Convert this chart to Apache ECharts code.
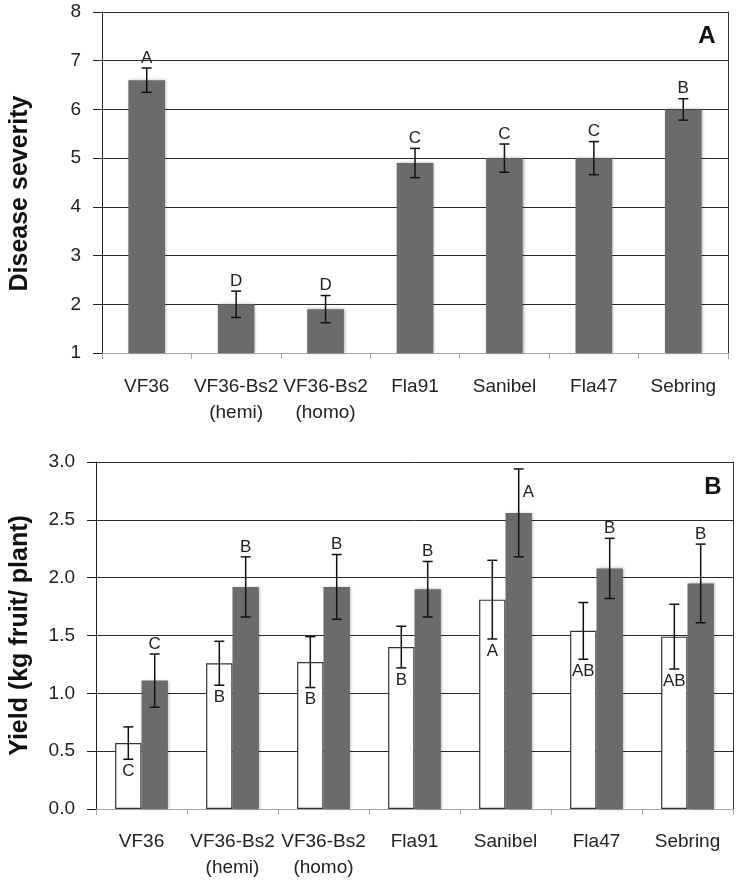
<!DOCTYPE html>
<html>
<head>
<meta charset="utf-8">
<script src="https://cdn.jsdelivr.net/npm/echarts@6/dist/echarts.min.js"></script>
<style>
  html, body { margin: 0; padding: 0; background: #fff; }
  #main { width: 738px; height: 881px; }
</style>
</head>
<body>
<div id="main"></div>
<script>
const categories = ["VF36", "VF36-Bs2\n(hemi)", "VF36-Bs2\n(homo)", "Fla91", "Sanibel", "Fla47", "Sebring"];

// panel A - disease severity
const severity = [6.6, 2.0, 1.9, 4.9, 5.0, 5.0, 6.0];
const severityErr = [0.25, 0.27, 0.28, 0.3, 0.29, 0.34, 0.22];
const severityGroups = ["A", "D", "D", "C", "C", "C", "B"];

// panel B - yield, white and gray bars
const yieldWhite = [0.57, 1.26, 1.27, 1.40, 1.81, 1.54, 1.49];
const yieldWhiteErr = [0.14, 0.19, 0.22, 0.18, 0.34, 0.245, 0.28];
const yieldWhiteGroups = ["C", "B", "B", "B", "A", "AB", "AB"];
const yieldGray = [1.11, 1.92, 1.92, 1.90, 2.56, 2.08, 1.95];
const yieldGrayErr = [0.23, 0.26, 0.28, 0.24, 0.38, 0.26, 0.34];
const yieldGrayGroups = ["C", "B", "B", "B", "A", "B", "B"];

const FONT = "'Liberation Sans', Arial, Helvetica, sans-serif";
const GRAY = "#6b6b6b";

// error bar + letter drawn with custom series
// shift: -1 left bar, 0 single bar, +1 right bar ; side: "top" or "bottom"
function errorRender(groups, shift, widthPct, side) {
  return function (params, api) {
    var i = api.value(0);
    var v = api.value(1);
    var e = api.value(2);
    var band = api.size([1, 0])[0];
    var cx = api.coord([i, v])[0] + shift * band * widthPct / 2;
    var yTop = api.coord([i, v + e])[1];
    var yBot = api.coord([i, v - e])[1];
    var cs = params.coordSys;
    var half = 5;
    var ls = { stroke: "#111", lineWidth: 1.5 };
    var tx = cx, ty, align = "center";
    if (side === "bottom") {
      ty = yBot + 12;
    } else if (yTop - 18 < cs.y) {
      // no room above the bar: put letter beside the error bar
      tx = cx + 4;
      ty = yTop + 23;
      align = "left";
    } else {
      ty = yTop - 10;
    }
    return {
      type: "group",
      children: [
        { type: "line", shape: { x1: cx, y1: yTop, x2: cx, y2: yBot }, style: ls },
        { type: "line", shape: { x1: cx - half, y1: yTop, x2: cx + half, y2: yTop }, style: ls },
        { type: "line", shape: { x1: cx - half, y1: yBot, x2: cx + half, y2: yBot }, style: ls },
        {
          type: "text", x: tx, y: ty,
          style: {
            text: groups[params.dataIndex], fill: "#222", fontSize: 17, fontFamily: FONT,
            align: align, verticalAlign: "middle"
          }
        }
      ]
    };
  };
}

function toErrData(vals, errs) {
  return vals.map(function (v, i) { return [i, v, errs[i]]; });
}

function xAxisFor(gridIndex, margin) {
  return {
    type: "category",
    gridIndex: gridIndex,
    data: categories,
    axisLine: { lineStyle: { color: "#a6a6a6", width: 1 } },
    axisTick: { show: true, length: 6, lineStyle: { color: "#a6a6a6" } },
    axisLabel: {
      interval: 0, margin: margin, fontSize: 19, lineHeight: 26,
      color: "#222", fontFamily: FONT
    },
    splitLine: { show: false }
  };
}

function yAxisFor(gridIndex, min, max, step, name, gap, pad, digits) {
  return {
    type: "value",
    gridIndex: gridIndex,
    min: min, max: max, interval: step,
    axisLine: { show: true, lineStyle: { color: "#222", width: 1 } },
    axisTick: { show: true, length: 9, lineStyle: { color: "#222" } },
    axisLabel: {
      margin: 21, fontSize: 19, color: "#222", fontFamily: FONT,
      formatter: function (val) { return val.toFixed(digits); }
    },
    splitLine: { show: true, showMinLine: false, lineStyle: { color: "#2a2a2a", width: 1 } },
    name: name,
    nameLocation: "middle",
    nameGap: gap,
    nameTextStyle: {
      fontSize: 25, fontWeight: "bold", color: "#111", fontFamily: FONT, padding: pad
    }
  };
}

function rightBorder(gridIndex, min, max) {
  return {
    type: "value", gridIndex: gridIndex, position: "right",
    min: min, max: max,
    axisLine: { show: true, lineStyle: { color: "#333", width: 1 } },
    axisTick: { show: false }, axisLabel: { show: false }, splitLine: { show: false }
  };
}

var myChart = echarts.init(document.getElementById("main"), null, { renderer: "canvas" });
myChart.setOption({
  animation: false,
  backgroundColor: "#fff",
  grid: [
    { left: 97, right: 10, top: 12, height: 341 },
    { left: 91, right: 5, top: 462, height: 347 }
  ],
  xAxis: [xAxisFor(0, 21), xAxisFor(1, 20)],
  yAxis: [
    yAxisFor(0, 1, 8, 1, "Disease severity", 69, [0, 22, 0, 0], 0),
    rightBorder(0, 1, 8),
    yAxisFor(1, 0, 3, 0.5, "Yield (kg fruit/ plant)", 63, 0, 1),
    rightBorder(1, 0, 3)
  ],
  graphic: [
    { type: "text", x: 707, y: 36, style: { text: "A", fill: "#111", font: "bold 24px " + FONT, align: "center", verticalAlign: "middle" } },
    { type: "text", x: 713, y: 487, style: { text: "B", fill: "#111", font: "bold 24px " + FONT, align: "center", verticalAlign: "middle" } }
  ],
  series: [
    {
      name: "Disease severity",
      type: "bar",
      xAxisIndex: 0, yAxisIndex: 0,
      data: severity,
      barWidth: "41%",
      itemStyle: { color: GRAY, shadowBlur: 3, shadowColor: "rgba(0,0,0,0.3)", shadowOffsetX: 1 }
    },
    {
      type: "custom",
      xAxisIndex: 0, yAxisIndex: 0,
      data: toErrData(severity, severityErr),
      encode: { x: 0, y: 1 },
      renderItem: errorRender(severityGroups, 0, 0.41, "top"),
      z: 5
    },
    {
      name: "Yield white",
      type: "bar",
      xAxisIndex: 1, yAxisIndex: 2,
      data: yieldWhite,
      barWidth: "29%",
      barGap: "0%",
      itemStyle: { color: "#fff", borderColor: "#333", borderWidth: 1.2 }
    },
    {
      name: "Yield gray",
      type: "bar",
      xAxisIndex: 1, yAxisIndex: 2,
      data: yieldGray,
      barWidth: "29%",
      barGap: "0%",
      itemStyle: { color: GRAY, shadowBlur: 3, shadowColor: "rgba(0,0,0,0.3)", shadowOffsetX: 1 }
    },
    {
      type: "custom",
      xAxisIndex: 1, yAxisIndex: 2,
      data: toErrData(yieldWhite, yieldWhiteErr),
      encode: { x: 0, y: 1 },
      renderItem: errorRender(yieldWhiteGroups, -1, 0.29, "bottom"),
      z: 5
    },
    {
      type: "custom",
      xAxisIndex: 1, yAxisIndex: 2,
      data: toErrData(yieldGray, yieldGrayErr),
      encode: { x: 0, y: 1 },
      renderItem: errorRender(yieldGrayGroups, 1, 0.29, "top"),
      z: 5
    }
  ]
});
</script>
</body>
</html>
